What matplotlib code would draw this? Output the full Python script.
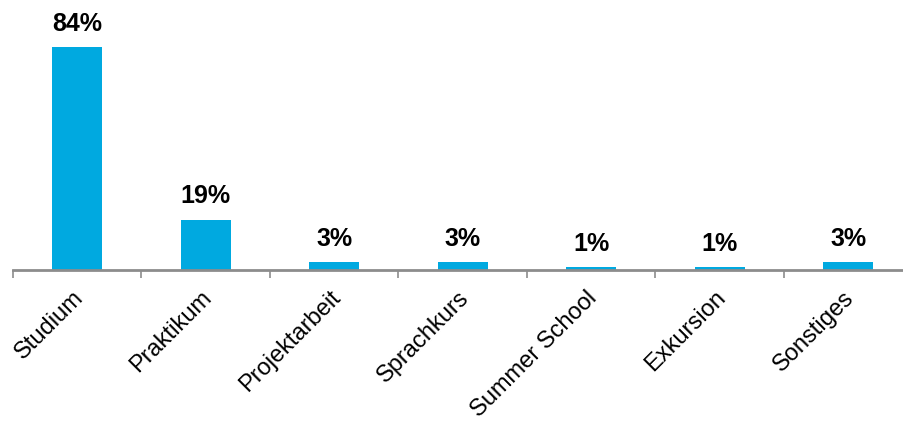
import numpy as np
import matplotlib
matplotlib.use("Agg")
import matplotlib.pyplot as plt
import matplotlib.transforms as mtransforms

categories = ["Studium", "Praktikum", "Projektarbeit", "Sprachkurs",
              "Summer School", "Exkursion", "Sonstiges"]
values = [84, 19, 3, 3, 1, 1, 3]

plt.rcParams['font.family'] = ['Liberation Sans', 'DejaVu Sans']

fig = plt.figure(figsize=(9.04, 4.21), dpi=100)
ax = fig.add_axes([13 / 904, 151 / 421, 899.5 / 904, 270 / 421])

x = np.arange(len(categories))
ax.bar(x, values, width=0.39, color='#00A9E0')

for xi, v in zip(x, values):
    ax.annotate("{}%".format(v), (xi, v), xytext=(0, 8), textcoords='offset points',
                ha='center', va='bottom', fontsize=18, fontweight='bold')

ax.set_xlim(-0.5, len(categories) - 0.5)
ax.set_ylim(0, 101.7)

for s in ['top', 'right', 'left']:
    ax.spines[s].set_visible(False)
ax.spines['bottom'].set_color('#8c8c8c')
ax.spines['bottom'].set_linewidth(2)
ax.set_yticks([])

# tick marks sit between the categories
ax.set_xticks(x - 0.5, minor=False)
ax.set_xticklabels([])
ax.tick_params(axis='x', which='major', length=6, width=1.2, color='#8c8c8c', direction='out')
ax.set_xticks(x, minor=True)
ax.set_xticklabels(categories, minor=True, rotation=45, ha='right',
                   rotation_mode='anchor', fontsize=17)
ax.tick_params(axis='x', which='minor', length=0, pad=12)
shift = mtransforms.ScaledTranslation(-5 / 100, 0, fig.dpi_scale_trans)
for lab in ax.get_xticklabels(minor=True):
    lab.set_transform(lab.get_transform() + shift)

fig.savefig("out.png", dpi=100)
